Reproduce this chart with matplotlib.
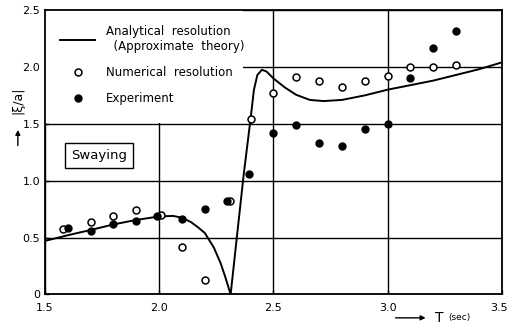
import matplotlib.pyplot as plt
from matplotlib.patches import Rectangle
from matplotlib.transforms import ScaledTranslation

# analytical curve
curve_t = [1.5, 1.6, 1.7, 1.8, 1.9, 2.0, 2.06, 2.1, 2.14, 2.17, 2.2, 2.24, 2.27, 2.29, 2.313,
           2.34, 2.37, 2.40, 2.415, 2.43, 2.45, 2.47, 2.5, 2.55, 2.6, 2.66, 2.72, 2.8, 2.9,
           3.0, 3.1, 3.2, 3.3, 3.4, 3.5]
curve_v = [0.47, 0.52, 0.566, 0.615, 0.655, 0.685, 0.69, 0.675, 0.635, 0.59, 0.54, 0.41, 0.27,
           0.15, 0.0, 0.5, 1.05, 1.54, 1.80, 1.93, 1.975, 1.96, 1.90, 1.82, 1.755, 1.71, 1.70,
           1.71, 1.75, 1.80, 1.84, 1.88, 1.93, 1.98, 2.04]

# numerical resolution (open circles)
num_t = [1.58, 1.70, 1.80, 1.90, 2.01, 2.10, 2.20, 2.31, 2.40, 2.50, 2.60, 2.70, 2.80, 2.90,
         3.00, 3.10, 3.20, 3.30]
num_v = [0.575, 0.64, 0.69, 0.74, 0.70, 0.42, 0.13, 0.82, 1.54, 1.77, 1.91, 1.88, 1.825, 1.88,
         1.92, 2.00, 2.00, 2.02]

# experiment (filled circles)
exp_t = [1.60, 1.70, 1.80, 1.90, 1.99, 2.10, 2.20, 2.295, 2.395, 2.50, 2.60, 2.70, 2.80, 2.90,
         3.00, 3.10, 3.20, 3.30]
exp_v = [0.58, 0.56, 0.62, 0.645, 0.69, 0.665, 0.75, 0.82, 1.06, 1.415, 1.487, 1.327, 1.303,
         1.455, 1.50, 1.90, 2.17, 2.32]

xticks = [1.5, 2.0, 2.5, 3.0, 3.5]
yticks = [0, 0.5, 1.0, 1.5, 2.0, 2.5]
ytick_labels = ['0', '0.5', '1.0', '1.5', '2.0', '2.5']

plt.rcParams['font.family'] = 'DejaVu Sans'
fig = plt.figure(figsize=(5.1, 3.26), dpi=100)
ax = fig.add_axes([0.088, 0.097, 0.896, 0.872])

ax.set_xlim(1.5, 3.5)
ax.set_ylim(0, 2.5)
ax.set_xticks(xticks)
ax.set_xticklabels([f'{t:.1f}' for t in xticks], fontsize=8)
ax.set_yticks(yticks)
ax.set_yticklabels(ytick_labels, fontsize=8)
ax.tick_params(direction='in', length=3, width=1)
ax.tick_params(axis='x', pad=6)
# nudge the last x label so it stays inside the figure
last = ax.get_xticklabels()[-1]
last.set_transform(last.get_transform() + ScaledTranslation(-3 / 100, 0, fig.dpi_scale_trans))
for s in ax.spines.values():
    s.set_linewidth(1.3)
    s.set_zorder(5)

ax.set_axisbelow(True)
ax.grid(True, color='black', linewidth=1.0)

# white area behind the legend hides the grid there
ax.add_patch(Rectangle((0, 0.602), 0.434, 0.398, transform=ax.transAxes,
                       facecolor='white', edgecolor='none', zorder=1.5))

ax.plot(curve_t, curve_v, color='black', linewidth=1.4, zorder=3,
        label='Analytical  resolution\n  (Approximate  theory)')
ax.plot(num_t, num_v, 'o', markersize=5, markerfacecolor='white', markeredgecolor='black',
        markeredgewidth=1.1, zorder=4, label='Numerical  resolution')
ax.plot(exp_t, exp_v, 'o', markersize=5, color='black', zorder=4, label='Experiment')

ax.legend(loc='upper left', bbox_to_anchor=(0.01, 0.985), frameon=False, fontsize=8.5,
          handlelength=3, handletextpad=0.9, labelspacing=1.1)

ax.text(1.615, 1.225, 'Swaying', fontsize=9.5, va='center', ha='left',
        bbox=dict(boxstyle='square,pad=0.45', facecolor='white', edgecolor='black', linewidth=1))

fig.text(0.035, 0.693, '|ξ/a|', rotation=90, fontsize=9, ha='center', va='center')
ax.annotate('', xy=(0.035, 0.61), xytext=(0.035, 0.545), xycoords='figure fraction',
            textcoords='figure fraction', annotation_clip=False,
            arrowprops=dict(arrowstyle='-|>', color='black', lw=1, mutation_scale=7))
ax.annotate('', xy=(0.84, 0.025), xytext=(0.77, 0.025), xycoords='figure fraction',
            textcoords='figure fraction', annotation_clip=False,
            arrowprops=dict(arrowstyle='-|>', color='black', lw=1, mutation_scale=7))
fig.text(0.853, 0.025, 'T', fontsize=10, ha='left', va='center')
fig.text(0.878, 0.025, '(sec)', fontsize=6.5, ha='left', va='center')

fig.savefig('out.png', dpi=100)
